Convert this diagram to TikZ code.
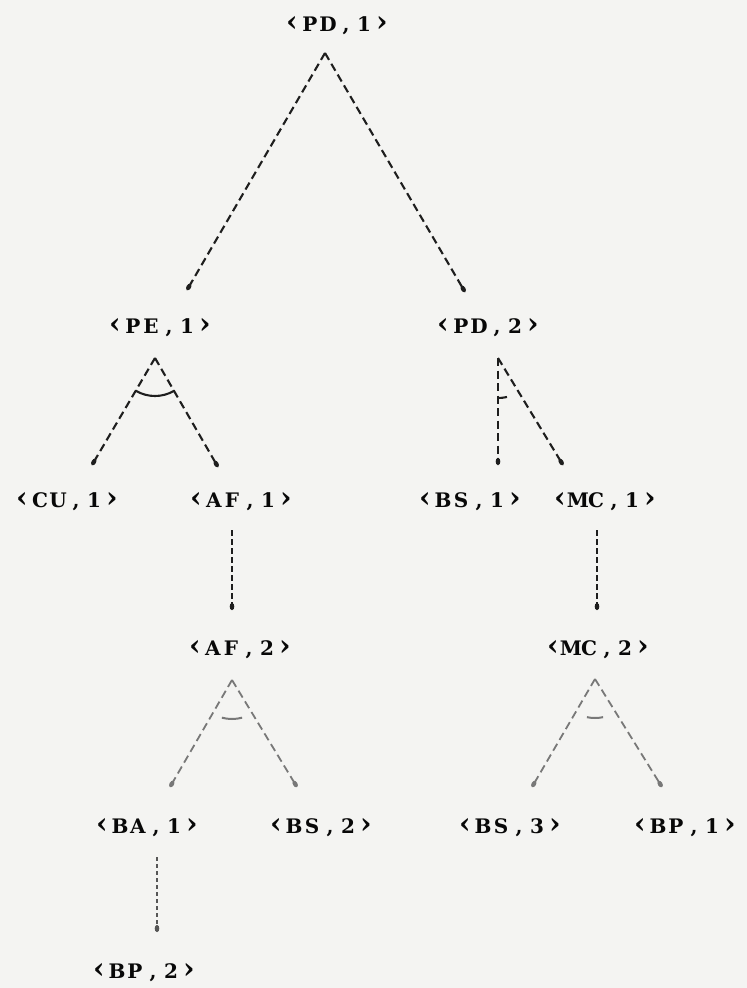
\documentclass[tikz,border=0pt]{standalone}
\usepackage{fontspec}
\setmainfont{DejaVu Serif}
\usetikzlibrary{calc,arrows.meta}

% fixed-pitch printer look: every character sits in a box of equal width
\newlength\pitch
\setlength\pitch{18pt}
\newcommand\pc[1]{\makebox[\pitch]{#1}}
\newcommand\brk[1]{\pc{\raisebox{-0.5pt}{\fontsize{29}{29}\selectfont #1}}}
\newcommand\goal[3]{\brk{‹}\pc{#1}\pc{#2}\pc{,}\pc{#3}\brk{›}}

\definecolor{paper}{RGB}{244,244,242}
\definecolor{ink}{RGB}{8,8,8}
\definecolor{inkdark}{RGB}{30,30,30}
\definecolor{inklight}{RGB}{120,120,120}

\tikzset{
  goalnode/.style={anchor=base, inner sep=0pt, font=\fontsize{20}{20}\selectfont\bfseries, text=ink},
  link/.style={draw=inkdark, line width=2.1pt, dash pattern=on 8pt off 4.5pt,
               -{Ellipse[length=7pt,width=4.5pt]}},
  linklight/.style={link, draw=inklight, line width=1.8pt},
  andarc/.style={draw=inkdark, line width=2.1pt},
  andarclight/.style={draw=inklight, line width=2pt},
}

\begin{document}
\begin{tikzpicture}[x=1pt, y=-1pt]
  % page with paper tone
  \fill[paper] (0,0) rectangle (747,988);
  \useasboundingbox (0,0) rectangle (747,988);

  % goals
  \node[goalnode] (pd1) at (337,31)  {\goal PD1};
  \node[goalnode] (pe1) at (160,333) {\goal PE1};
  \node[goalnode] (pd2) at (488,333) {\goal PD2};
  \node[goalnode] (cu1) at (67,507)  {\goal CU1};
  \node[goalnode] (af1) at (241,507) {\goal AF1};
  \node[goalnode] (bs1) at (470,507) {\goal BS1};
  \node[goalnode] (mc1) at (605,507) {\goal MC1};
  \node[goalnode] (af2) at (240,655) {\goal AF2};
  \node[goalnode] (mc2) at (598,655) {\goal MC2};
  \node[goalnode] (ba1) at (147,833) {\goal BA1};
  \node[goalnode] (bs2) at (321,833) {\goal BS2};
  \node[goalnode] (bs3) at (510,833) {\goal BS3};
  \node[goalnode] (bp1) at (685,833) {\goal BP1};
  \node[goalnode] (bp2) at (144,978) {\goal BP2};

  % branching points just below each parent
  \coordinate (pd1-o) at ($(pd1.base)+(-12,22)$);
  \coordinate (pe1-o) at ($(pe1.base)+(-5,25)$);
  \coordinate (pd2-o) at ($(pd2.base)+(10,25)$);
  \coordinate (af1-o) at ($(af1.base)+(-9,23)$);
  \coordinate (mc1-o) at ($(mc1.base)+(-8,23)$);
  \coordinate (af2-o) at ($(af2.base)+(-8,25)$);
  \coordinate (mc2-o) at ($(mc2.base)+(-3,24)$);
  \coordinate (ba1-o) at ($(ba1.base)+(10,24)$);

  % entry points just above each child
  \coordinate (pe1-i) at ($(pe1.base)+(27,-43)$);
  \coordinate (pd2-i) at ($(pd2.base)+(-23,-41)$);
  \coordinate (cu1-i) at ($(cu1.base)+(25,-42)$);
  \coordinate (af1-i) at ($(af1.base)+(-23,-40)$);
  \coordinate (bs1-i) at ($(bs1.base)+(28,-42)$);
  \coordinate (mc1-i) at ($(mc1.base)+(-42,-42)$);
  \coordinate (af2-i) at ($(af2.base)+(-8,-45)$);
  \coordinate (mc2-i) at ($(mc2.base)+(-1,-45)$);
  \coordinate (ba1-i) at ($(ba1.base)+(23,-46)$);
  \coordinate (bs2-i) at ($(bs2.base)+(-24,-46)$);
  \coordinate (bs3-i) at ($(bs3.base)+(22,-46)$);
  \coordinate (bp1-i) at ($(bp1.base)+(-23,-46)$);
  \coordinate (bp2-i) at ($(bp2.base)+(13,-46)$);

  % connectors
  \draw[link] (pd1-o) -- (pe1-i);
  \draw[link] (pd1-o) -- (pd2-i);
  \draw[link] (pe1-o) -- (cu1-i);
  \draw[link] (pe1-o) -- (af1-i);
  \draw[link] (pd2-o) -- (bs1-i);
  \draw[link] (pd2-o) -- (mc1-i);
  \draw[link, line width=1.6pt, dash pattern=on 6pt off 3pt] (af1-o) -- (af2-i);
  \draw[link, line width=1.6pt, dash pattern=on 6pt off 3pt] (mc1-o) -- (mc2-i);
  \draw[linklight] (af2-o) -- (ba1-i);
  \draw[linklight] (af2-o) -- (bs2-i);
  \draw[linklight] (mc2-o) -- (bs3-i);
  \draw[linklight] (mc2-o) -- (bp1-i);
  \draw[link, line width=1.4pt, dash pattern=on 4pt off 3pt, draw=inkdark!75] (ba1-o) -- (bp2-i);

  % conjunction arcs
  \draw[andarc] (pe1-o) ++(239:38pt) arc[start angle=239, end angle=301, radius=38pt];
  \draw[andarc] (pd2-o) ++(270:40pt) arc[start angle=270, end angle=283, radius=40pt];
  \draw[andarclight] (af2-o) ++(255:39pt) arc[start angle=255, end angle=285, radius=39pt];
  \draw[andarclight] (mc2-o) ++(258:39pt) arc[start angle=258, end angle=282, radius=39pt];
\end{tikzpicture}
\end{document}
